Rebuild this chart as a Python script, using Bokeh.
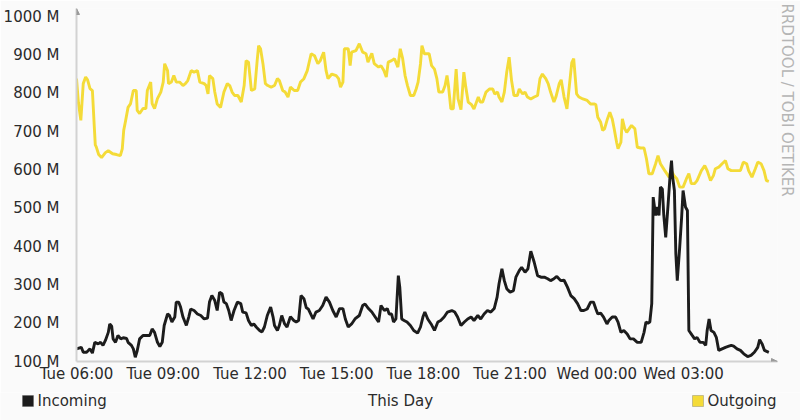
from bokeh.plotting import figure
from bokeh.layouts import column
from bokeh.models import FixedTicker, Label, BoxAnnotation, Arrow, NormalHead, Title
from bokeh.embed import file_html
from bokeh.resources import INLINE

# time axis: minutes after Tue 06:00
x_ticks = [0, 180, 360, 540, 720, 900, 1080, 1260]
x_tick_labels = ["Tue 06:00", "Tue 09:00", "Tue 12:00", "Tue 15:00",
                 "Tue 18:00", "Tue 21:00", "Wed 00:00", "Wed 03:00"]
y_ticks = [100, 200, 300, 400, 500, 600, 700, 800, 900, 1000]
y_tick_labels = ["100 M", "200 M", "300 M", "400 M", "500 M",
                 "600 M", "700 M", "800 M", "900 M", "1000 M"]

# Incoming (black), Mbit/s
in_t = [0, 5, 10, 14, 21, 28, 33, 38, 45, 50, 55, 60, 66, 69, 73, 76, 81, 86, 92, 97,
        104, 107, 114, 118, 122, 126, 131, 138, 145, 152, 157, 162, 168, 173, 178, 182,
        189, 193, 198, 204, 207, 212, 216, 221, 228, 233, 237, 244, 251, 258, 265, 272,
        276, 281, 287, 292, 297, 302, 306, 311, 316, 321, 327, 334, 341, 345, 352, 357,
        363, 368, 373, 380, 385, 390, 396, 403, 408, 411, 417, 421, 426, 432, 437, 444,
        451, 456, 461, 466, 472, 477, 481, 491, 497, 504, 511, 518, 525, 532, 539, 546,
        553, 558, 564, 571, 578, 587, 594, 599, 606, 613, 620, 627, 632, 639, 645, 649,
        654, 658, 663, 668, 671, 675, 680, 686, 693, 700, 708, 714, 719, 723, 729, 736,
        743, 750, 756, 763, 770, 779, 785, 791, 798, 805, 812, 819, 825, 833, 839, 846,
        853, 860, 867, 873, 877, 883, 888, 893, 900, 907, 912, 919, 924, 931, 937, 943,
        950, 957, 964, 971, 978, 984, 991, 997, 1005, 1012, 1019, 1026, 1033, 1040, 1047,
        1053, 1060, 1067, 1073, 1078, 1082, 1088, 1094, 1101, 1105, 1112, 1119, 1124,
        1130, 1136, 1143, 1149, 1156, 1164, 1172, 1178, 1182, 1186, 1190, 1194, 1197,
        1202, 1206, 1209, 1212, 1216, 1219, 1223, 1228, 1232, 1235, 1237, 1241, 1244,
        1247, 1252, 1256, 1259, 1264, 1268, 1271, 1278, 1283, 1288, 1294, 1301, 1306,
        1309, 1313, 1317, 1323, 1328, 1333, 1340, 1347, 1354, 1359, 1364, 1371, 1378,
        1385, 1393, 1400, 1407, 1414, 1418, 1423, 1428, 1437]
in_v = [133, 135, 137, 124, 124, 133, 122, 150, 146, 150, 142, 155, 176, 198, 192, 159,
        150, 168, 159, 162, 160, 150, 142, 133, 111, 128, 159, 168, 168, 168, 185, 176,
        150, 139, 150, 194, 224, 220, 203, 216, 255, 255, 242, 216, 194, 216, 237, 233,
        224, 220, 211, 213, 255, 272, 259, 233, 281, 277, 255, 251, 233, 207, 233, 255,
        251, 229, 227, 207, 194, 198, 190, 181, 177, 190, 220, 242, 216, 194, 181, 194,
        220, 198, 190, 217, 207, 203, 207, 272, 264, 240, 237, 211, 229, 233, 246, 268,
        255, 233, 216, 238, 238, 211, 190, 198, 211, 220, 246, 250, 238, 229, 216, 203,
        246, 233, 238, 224, 224, 203, 211, 324, 294, 211, 207, 203, 194, 181, 174, 190,
        216, 229, 211, 198, 181, 203, 207, 216, 229, 233, 229, 216, 194, 203, 211, 216,
        207, 220, 211, 224, 233, 229, 238, 268, 303, 342, 311, 290, 281, 285, 320, 337,
        346, 333, 342, 388, 359, 324, 320, 320, 316, 311, 316, 322, 311, 312, 294, 272,
        264, 251, 233, 233, 237, 255, 255, 237, 224, 226, 216, 198, 207, 216, 216, 203,
        176, 181, 172, 159, 159, 150, 150, 176, 203, 200, 203, 251, 529, 481, 503, 481,
        555, 550, 481, 424, 511, 585, 624, 585, 546, 381, 311, 398, 476, 546, 503, 494,
        181, 168, 159, 163, 150, 150, 142, 181, 211, 181, 176, 163, 129, 133, 137, 140,
        142, 140, 133, 129, 120, 113, 116, 124, 137, 157, 146, 129, 124]

# Outgoing (yellow), Mbit/s
out_t = [0, 4, 9, 14, 19, 23, 28, 33, 37, 39, 41, 46, 52, 60, 66, 75, 83, 91, 95, 98,
         102, 107, 112, 118, 124, 126, 131, 138, 144, 147, 154, 157, 162, 168, 175, 180,
         183, 189, 191, 197, 202, 207, 214, 221, 226, 231, 238, 244, 251, 256, 265, 269,
         273, 276, 283, 287, 292, 299, 306, 313, 318, 323, 328, 335, 342, 348, 352, 357,
         363, 370, 375, 378, 382, 387, 392, 397, 404, 411, 417, 421, 428, 433, 439, 444,
         452, 459, 465, 472, 479, 487, 494, 501, 506, 513, 518, 522, 530, 539, 544, 548,
         553, 556, 564, 568, 571, 580, 587, 594, 601, 605, 608, 613, 618, 627, 632, 638,
         643, 647, 654, 660, 667, 672, 677, 682, 687, 693, 700, 705, 709, 714, 717, 722,
         732, 737, 743, 748, 752, 760, 765, 769, 772, 777, 782, 788, 792, 798, 804, 808,
         813, 820, 825, 834, 838, 843, 850, 857, 864, 868, 874, 877, 883, 888, 893, 898,
         903, 908, 915, 919, 926, 931, 936, 943, 950, 957, 962, 967, 974, 979, 984, 991,
         995, 1002, 1006, 1012, 1018, 1023, 1028, 1032, 1038, 1043, 1051, 1060, 1067,
         1074, 1078, 1082, 1088, 1092, 1096, 1102, 1107, 1112, 1116, 1121, 1124, 1130,
         1133, 1138, 1142, 1147, 1152, 1159, 1164, 1171, 1178, 1183, 1188, 1195, 1202,
         1207, 1212, 1221, 1230, 1235, 1240, 1246, 1252, 1259, 1266, 1271, 1276, 1283,
         1288, 1297, 1304, 1309, 1316, 1322, 1326, 1333, 1340, 1347, 1352, 1359, 1366,
         1373, 1378, 1384, 1391, 1395, 1402, 1409, 1414, 1421, 1427, 1432, 1437]
out_v = [838, 775, 729, 825, 842, 835, 812, 807, 711, 665, 660, 640, 632, 645, 650, 642,
         640, 637, 655, 703, 729, 763, 772, 807, 807, 755, 747, 760, 760, 807, 829, 773,
         760, 786, 803, 829, 877, 859, 825, 829, 846, 829, 829, 820, 825, 833, 859, 855,
         859, 829, 825, 820, 798, 846, 838, 803, 772, 763, 803, 825, 820, 803, 794, 794,
         777, 820, 885, 881, 807, 811, 885, 924, 916, 877, 825, 820, 816, 820, 838, 833,
         807, 803, 790, 816, 807, 807, 829, 838, 859, 903, 898, 877, 885, 907, 859, 838,
         850, 846, 838, 816, 829, 916, 916, 872, 907, 911, 929, 907, 903, 881, 890, 904,
         877, 868, 872, 859, 842, 881, 885, 890, 868, 916, 890, 846, 820, 794, 794, 811,
         829, 877, 924, 903, 903, 872, 863, 838, 803, 803, 820, 846, 820, 759, 759, 863,
         785, 757, 855, 816, 777, 770, 759, 790, 777, 777, 803, 811, 811, 798, 803, 790,
         777, 803, 855, 894, 833, 794, 794, 811, 798, 803, 790, 785, 790, 794, 838, 850,
         838, 825, 803, 777, 790, 825, 835, 790, 759, 820, 880, 890, 798, 790, 785, 781,
         772, 772, 770, 737, 724, 703, 707, 733, 750, 733, 707, 672, 655, 672, 733, 707,
         698, 707, 716, 707, 659, 657, 657, 629, 590, 590, 616, 637, 616, 598, 581, 598,
         585, 577, 555, 555, 577, 590, 564, 564, 572, 598, 611, 598, 572, 585, 603, 607,
         616, 624, 603, 598, 598, 598, 598, 620, 616, 598, 581, 603, 620, 616, 598, 572,
         570]

X_END = 1455
Y_END = 1021
BG = "#fafafa"
TXT = "#2b2b2b"
FONT = "DejaVu Sans"
IN_COLOR = "#1c1c1c"
OUT_COLOR = "#f4db38"

p = figure(width=800, height=392, output_backend="svg", toolbar_location=None,
           x_range=(0, X_END), y_range=(100, Y_END),
           min_border_left=75, min_border_right=23, min_border_top=8, min_border_bottom=31,
           background_fill_color=BG, border_fill_color=BG)
p.frame_align = False
p.outline_line_color = None
p.grid.visible = False

p.line(out_t, out_v, color=OUT_COLOR, line_width=2.9)
p.line(in_t, in_v, color=IN_COLOR, line_width=2.9)

for ax in (p.xaxis[0], p.yaxis[0]):
    ax.axis_line_color = "#d2d2d2"
    ax.axis_line_width = 2
    ax.major_tick_line_color = None
    ax.minor_tick_line_color = None
    ax.major_label_text_font = FONT
    ax.major_label_text_font_size = "15px"
    ax.major_label_text_color = TXT

p.xaxis.ticker = FixedTicker(ticks=x_ticks)
p.xaxis.major_label_overrides = dict(zip(x_ticks, x_tick_labels))
p.xaxis.major_label_standoff = -3
p.yaxis.ticker = FixedTicker(ticks=y_ticks)
p.yaxis.major_label_overrides = dict(zip(y_ticks, y_tick_labels))
p.yaxis.major_label_standoff = 11

# axis arrow heads
p.add_layout(Arrow(end=NormalHead(size=6, fill_color="#9a9a9a", line_color="#9a9a9a"),
                   x_start=X_END - 20, y_start=100, x_end=X_END, y_end=100, line_alpha=0))
p.add_layout(Arrow(end=NormalHead(size=6, fill_color="#9a9a9a", line_color="#9a9a9a"),
                   x_start=0, y_start=Y_END - 10, x_end=0, y_end=Y_END, line_alpha=0))

# vertical watermark on the right
p.add_layout(Title(text="RRDTOOL / TOBI OETIKER", align="left", text_font=FONT,
                   text_font_size="15px", text_font_style="normal",
                   text_color="#b5b5b5", standoff=0, offset=-5), "right")

# legend row below the chart
leg = figure(width=800, height=28, output_backend="svg", toolbar_location=None,
             x_range=(0, 800), y_range=(0, 28), x_axis_location=None, y_axis_location=None,
             min_border_left=0, min_border_right=0, min_border_top=0, min_border_bottom=0,
             background_fill_color=BG, border_fill_color=BG)
leg.frame_align = False
leg.outline_line_color = None
leg.grid.visible = False


def lbl(text, x, y, align="left"):
    leg.add_layout(Label(text=text, x=x, y=y, x_units="screen", y_units="screen",
                         text_align=align, text_baseline="middle", text_font=FONT,
                         text_font_size="15px", text_color=TXT))


def swatch(x0, color, edge):
    leg.add_layout(BoxAnnotation(left=x0, right=x0 + 11, bottom=14, top=25,
                                 left_units="screen", right_units="screen",
                                 bottom_units="screen", top_units="screen",
                                 fill_color=color, fill_alpha=1,
                                 line_color=edge, line_width=1))


swatch(22, IN_COLOR, "#444444")
lbl("Incoming", 37, 20)
lbl("This Day", 400, 20, align="center")
swatch(692, OUT_COLOR, "#555555")
lbl("Outgoing", 707, 20)

layout = column(p, leg, spacing=0)
open("out.html", "w").write(file_html(layout, INLINE))
